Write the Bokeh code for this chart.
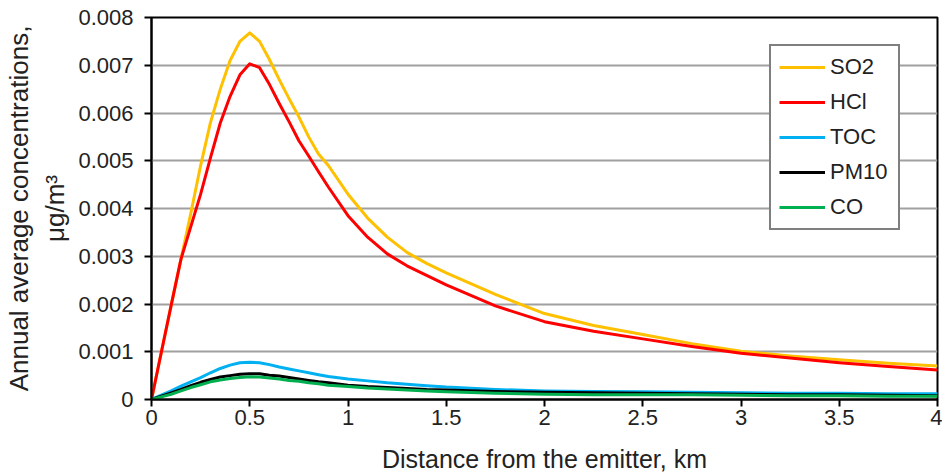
from bokeh.plotting import figure
from bokeh.models import FixedTicker, Range1d
from bokeh.embed import file_html
from bokeh.resources import INLINE

# ---- data ----
distance_km = [0, 0.05, 0.1, 0.15, 0.2, 0.25, 0.3, 0.35, 0.4, 0.45, 0.5, 0.55, 0.6, 0.65,
               0.7, 0.75, 0.8, 0.85, 0.9, 1.0, 1.1, 1.2, 1.3, 1.4, 1.5, 1.75, 2.0, 2.25,
               2.5, 2.75, 3.0, 3.25, 3.5, 3.75, 4.0]
so2 = [0, 0.00099, 0.00197, 0.00294, 0.0039, 0.0049, 0.0058, 0.0065, 0.0071, 0.0075,
       0.00768, 0.0075, 0.00712, 0.0067, 0.0063, 0.00592, 0.0055, 0.00514, 0.0049, 0.0043,
       0.0038, 0.0034, 0.00308, 0.00285, 0.00265, 0.0022, 0.0018, 0.00155, 0.00136,
       0.00117, 0.00101, 0.00091, 0.00083, 0.00076, 0.00070]
hcl = [0, 0.00099, 0.00197, 0.00294, 0.00362, 0.0043, 0.00506, 0.00579, 0.00635, 0.0068,
       0.00703, 0.00695, 0.0066, 0.0062, 0.00582, 0.00542, 0.0051, 0.00477, 0.00445, 0.00385,
       0.0034, 0.00305, 0.0028, 0.0026, 0.0024, 0.00196, 0.00163, 0.00143, 0.00127,
       0.00111, 0.00097, 0.00087, 0.00077, 0.00069, 0.00062]
toc = [0, 0.00009, 0.00018, 0.00028, 0.00037, 0.00046, 0.00056, 0.00065, 0.00072, 0.00077,
       0.00078, 0.00077, 0.00073, 0.00068, 0.00064, 0.00060, 0.00056, 0.00052, 0.00048,
       0.00043, 0.00039, 0.00035, 0.00032, 0.00029, 0.00026, 0.00021, 0.00018, 0.00017,
       0.00016, 0.00015, 0.00014, 0.00013, 0.00013, 0.00012, 0.00012]
pm10 = [0, 0.00007, 0.00014, 0.00021, 0.00029, 0.00036, 0.00042, 0.00047, 0.00050, 0.00053,
        0.00054, 0.00054, 0.00051, 0.00049, 0.00046, 0.00043, 0.00040, 0.00037, 0.00035,
        0.00030, 0.00027, 0.00025, 0.00023, 0.00021, 0.00020, 0.00017, 0.00015, 0.00014,
        0.00013, 0.00012, 0.00011, 0.00010, 0.00010, 0.00009, 0.00008]
co = [0, 0.000055, 0.00011, 0.00018, 0.00025, 0.00031, 0.00037, 0.00041, 0.00044, 0.00046,
      0.000475, 0.00047, 0.00045, 0.00043, 0.00040, 0.00038, 0.00035, 0.00033, 0.00030,
      0.00027, 0.00024, 0.00022, 0.00020, 0.00018, 0.00016, 0.00013, 0.00011, 0.00010,
      0.00010, 0.00010, 0.00009, 0.00008, 0.00008, 0.00007, 0.00007]

series_names = ["SO2", "HCl", "TOC", "PM10", "CO"]
series_values = [so2, hcl, toc, pm10, co]
series_colors = ["#FFC000", "#FF0000", "#00B0F0", "#000000", "#00B050"]

x_ticks = [0, 0.5, 1, 1.5, 2, 2.5, 3, 3.5, 4]
x_tick_labels = ["0", "0.5", "1", "1.5", "2", "2.5", "3", "3.5", "4"]
y_ticks = [0, 0.001, 0.002, 0.003, 0.004, 0.005, 0.006, 0.007, 0.008]
y_tick_labels = ["0", "0.001", "0.002", "0.003", "0.004", "0.005", "0.006", "0.007", "0.008"]

FONT = "Liberation Sans"
TXT = "#222222"

p = figure(width=942, height=475, output_backend="svg", toolbar_location=None,
           x_range=Range1d(0, 4), y_range=Range1d(0, 0.008),
           min_border_left=151, min_border_right=5, min_border_top=17, min_border_bottom=75)
p.background_fill_color = "white"
p.border_fill_color = "white"
p.outline_line_color = "black"
p.outline_line_width = 2

for name, vals, col in zip(series_names, series_values, series_colors):
    p.line(distance_km, vals, line_color=col, line_width=3, legend_label=name,
           line_join="round")

# axes
p.xaxis.ticker = FixedTicker(ticks=x_ticks)
p.xaxis.major_label_overrides = {t: l for t, l in zip(x_ticks, x_tick_labels)}
p.yaxis.ticker = FixedTicker(ticks=y_ticks)
p.yaxis.major_label_overrides = {t: l for t, l in zip(y_ticks, y_tick_labels)}

for ax in (p.xaxis, p.yaxis):
    ax.axis_line_color = "black"
    ax.axis_line_width = 2
    ax.major_tick_line_color = "black"
    ax.major_tick_line_width = 2
    ax.major_tick_in = 0
    ax.major_tick_out = 7
    ax.minor_tick_line_color = None
    ax.major_label_text_font = FONT
    ax.major_label_text_font_size = "22px"
    ax.major_label_text_color = TXT
    ax.axis_label_text_font = FONT
    ax.axis_label_text_font_style = "normal"
    ax.axis_label_text_color = TXT

p.xaxis.axis_label = "Distance from the emitter, km"
p.xaxis.axis_label_text_font_size = "25px"
p.xaxis.major_label_standoff = 3
p.xaxis.axis_label_standoff = 17

p.yaxis.axis_label = "Annual average concentrations,\nμg/m³"
p.yaxis.axis_label_text_font_size = "26px"
p.yaxis.axis_label_text_line_height = 1.2
p.yaxis.major_label_standoff = 11
p.yaxis.axis_label_standoff = 5

# grid
p.xgrid.grid_line_color = None
p.ygrid.ticker = FixedTicker(ticks=y_ticks)
p.ygrid.grid_line_color = "#A0A0A0"
p.ygrid.grid_line_width = 2

# legend
lg = p.legend[0]
lg.location = (618, 169)
lg.border_line_color = "black"
lg.border_line_width = 2
lg.background_fill_color = "white"
lg.background_fill_alpha = 1
lg.label_text_font = FONT
lg.label_text_font_size = "22px"
lg.label_text_color = TXT
lg.glyph_width = 46
lg.glyph_height = 20
lg.label_standoff = 5
lg.label_width = 60
lg.padding = 8
lg.spacing = 9
lg.margin = 0

open("out.html", "w").write(file_html(p, INLINE))
